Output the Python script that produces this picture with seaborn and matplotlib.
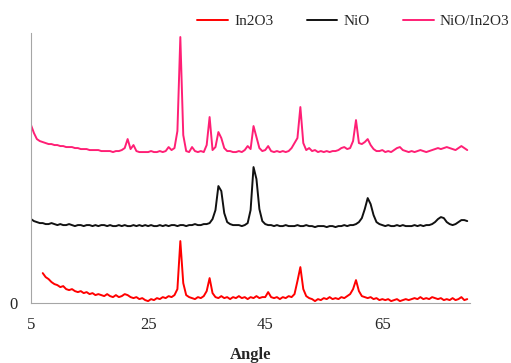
import numpy as np
import pandas as pd
import matplotlib
matplotlib.use("Agg")
import matplotlib.pyplot as plt
import seaborn as sns

# sampling grid (2theta, degrees) every 0.5 deg
angle = np.arange(5, 80, 0.5)

# intensities, arbitrary units (stacked as in the original)
nio_in2o3 = [
    178, 170, 164, 162, 161, 160, 159, 159, 158, 158,
    157, 157, 156, 156, 156, 155, 155, 154, 154, 154,
    153, 153, 153, 153, 152, 152, 152, 152, 151, 152,
    152, 153, 155, 164, 154, 158, 152, 151, 151, 151,
    151, 152, 151, 151, 152, 151, 152, 156, 153, 155,
    172, 266, 168, 152, 151, 156, 152, 151, 152, 151,
    158, 186, 153, 156, 171, 165, 155, 152, 152, 151,
    151, 152, 151, 153, 157, 154, 177, 166, 155, 152,
    153, 157, 152, 151, 152, 151, 152, 151, 152, 155,
    160, 165, 196, 160, 153, 155, 152, 153, 151, 152,
    151, 152, 151, 152, 152, 153, 155, 156, 154, 155,
    162, 183, 160, 159, 161, 164, 158, 154, 152, 152,
    153, 151, 152, 151, 153, 155, 156, 153, 152, 151,
    152, 151, 152, 153, 152, 151, 152, 153, 154, 155,
    154, 155, 156, 155, 154, 153, 155, 157, 155, 153,
]
nio = [
    84, 82, 81, 80, 80, 79, 79, 80, 79, 78,
    79, 78, 78, 79, 78, 77, 78, 78, 77, 78,
    78, 77, 78, 77, 78, 78, 77, 78, 77, 77,
    78, 77, 78, 77, 77, 78, 77, 78, 77, 78,
    77, 78, 77, 77, 78, 77, 78, 77, 78, 78,
    77, 78, 78, 77, 78, 78, 79, 78, 78, 79,
    79, 80, 84, 93, 117, 112, 90, 81, 79, 78,
    78, 78, 77, 78, 80, 93, 136, 124, 94, 82,
    79, 78, 78, 77, 78, 77, 77, 78, 77, 77,
    77, 78, 77, 77, 78, 77, 77, 76, 77, 77,
    77, 76, 77, 77, 76, 77, 77, 78, 77, 78,
    78, 79, 81, 85, 94, 105, 99, 88, 81, 79,
    78, 77, 78, 77, 77, 78, 77, 78, 77, 77,
    77, 78, 77, 78, 77, 78, 78, 79, 81, 84,
    86, 85, 81, 79, 78, 79, 81, 83, 83, 82,
]
in2o3 = [
    np.nan, np.nan, np.nan, np.nan, 30, 26, 24, 21, 19, 18,
    16, 17, 14, 13, 14, 12, 11, 12, 10, 11,
    9, 10, 8, 9, 8, 7, 9, 7, 6, 8,
    6, 7, 9, 8, 6, 5, 6, 4, 5, 3,
    2, 4, 3, 5, 4, 6, 5, 7, 6, 8,
    14, 62, 20, 8, 6, 5, 4, 6, 5, 7,
    12, 25, 10, 6, 5, 7, 5, 6, 4, 6,
    5, 7, 5, 6, 4, 6, 5, 7, 5, 6,
    6, 11, 6, 5, 6, 4, 6, 5, 7, 6,
    9, 22, 36, 14, 7, 5, 4, 2, 4, 3,
    5, 4, 6, 4, 5, 4, 6, 5, 7, 9,
    14, 23, 12, 7, 6, 5, 6, 4, 5, 3,
    4, 3, 4, 2, 3, 4, 2, 3, 4, 3,
    4, 5, 4, 6, 4, 5, 4, 6, 5, 4,
    5, 3, 4, 3, 5, 3, 4, 6, 3, 4,
]

series = ["In2O3", "NiO", "NiO/In2O3"]
colors = ["#ff0000", "#111111", "#ff1f75"]

df = pd.DataFrame({"Angle": angle, "In2O3": in2o3, "NiO": nio, "NiO/In2O3": nio_in2o3})

sns.set_style("white")
plt.rcParams["font.family"] = ["Liberation Serif", "DejaVu Serif"]

fig = plt.figure(figsize=(5.11, 3.63), dpi=100)
ax = fig.add_axes([0.0607, 0.165, 0.8594, 0.744])

for name, c in zip(series, colors):
    sns.lineplot(data=df, x="Angle", y=name, color=c, lw=1.4, label=name, ax=ax)

ax.set_xlim(5, 80)
ax.set_ylim(0, 270)
ax.set_xticks(np.arange(5, 80, 4))
ax.set_xticklabels([str(t) if (t - 5) % 20 == 0 else "" for t in range(5, 80, 4)])
ax.set_yticks([0])
ax.set_yticklabels(["0"])
ax.tick_params(axis="x", direction="out", length=3, width=0.8, color="#a6a6a6",
               pad=7, labelsize=12)
ax.tick_params(axis="y", direction="out", length=3, width=0.8, color="#a6a6a6",
               pad=7, labelsize=12)
for s in ["top", "right"]:
    ax.spines[s].set_visible(False)
for s in ["left", "bottom"]:
    ax.spines[s].set_color("#a6a6a6")
    ax.spines[s].set_linewidth(0.8)

ax.set_xlabel("Angle", fontsize=12, fontweight="bold", labelpad=10)
ax.set_ylabel("")

ax.legend_.remove()
handles, labels = ax.get_legend_handles_labels()
fig.legend(handles, labels, ncol=3, loc="center right", bbox_to_anchor=(0.997, 0.942),
           frameon=False, fontsize=11, handlelength=2.0, handletextpad=0.4,
           columnspacing=2.2, borderpad=0, borderaxespad=0)

fig.savefig("out.png", dpi=100)
